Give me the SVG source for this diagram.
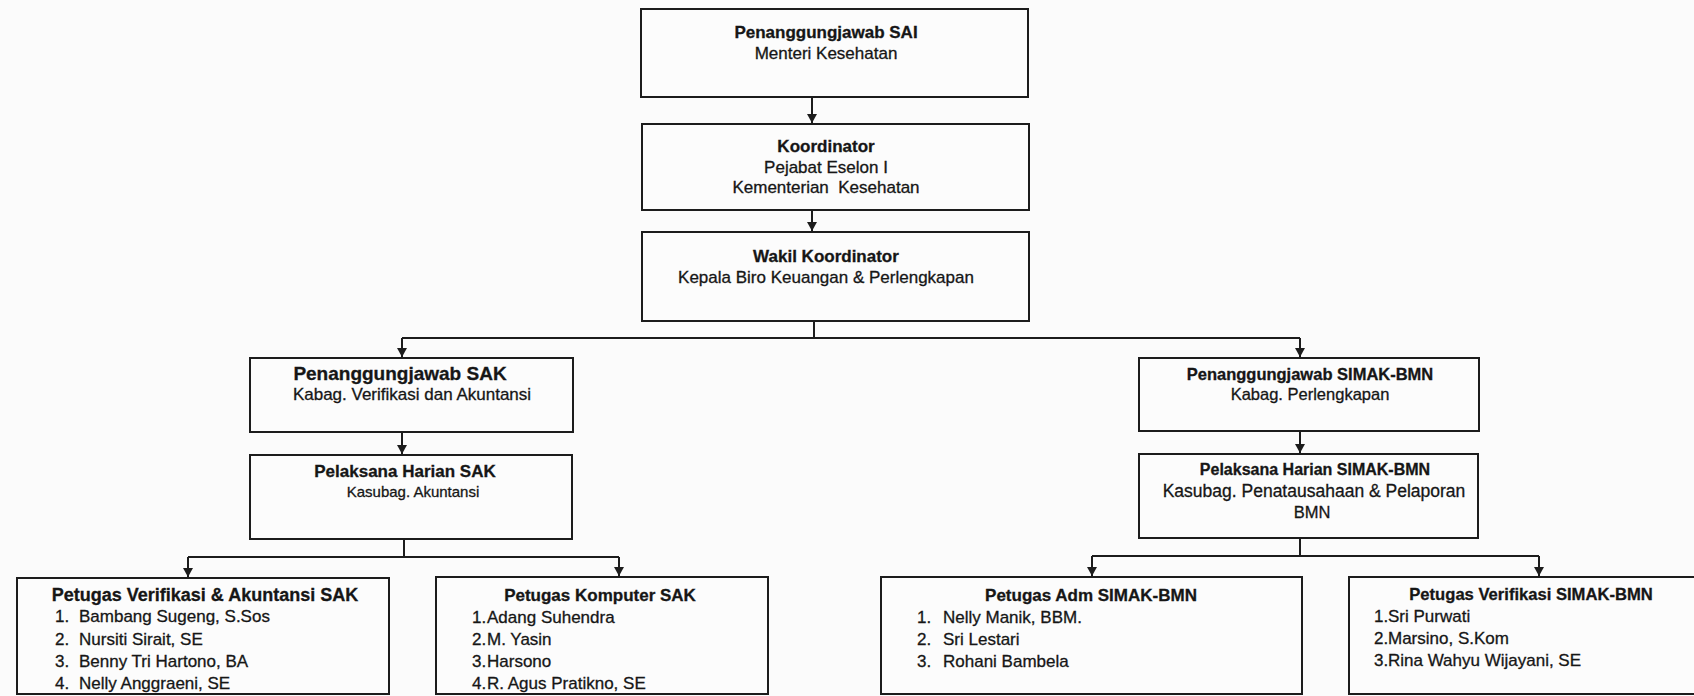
<svg xmlns="http://www.w3.org/2000/svg" width="1694" height="696" viewBox="0 0 1694 696">
<defs>
<style>
.bg{fill:#fbfbfb}
.box{fill:#fcfcfc;stroke:#1c1c1c;stroke-width:2}
.ln{fill:none;stroke:#1c1c1c;stroke-width:2}
text{font-family:"Liberation Sans",Arial,sans-serif;fill:#161616;stroke:#161616;stroke-width:0.3;font-size:17px}
.c{text-anchor:middle}
.b{font-weight:bold}
</style>
<marker id="ah" viewBox="0 0 10 10" refX="9" refY="5" markerWidth="10" markerHeight="10" markerUnits="userSpaceOnUse" orient="auto">
<path d="M0,0 L9,5 L0,10 z" fill="#1c1c1c"/>
</marker>
</defs>
<rect class="bg" x="0" y="0" width="1694" height="696"/>

<g id="connectors">
<path class="ln" d="M812,97 V123" marker-end="url(#ah)"/>
<path class="ln" d="M812,210 V231" marker-end="url(#ah)"/>
<path class="ln" d="M814,321 V338 M402,338 H1300"/>
<path class="ln" d="M402,338 V357" marker-end="url(#ah)"/>
<path class="ln" d="M1300,338 V357" marker-end="url(#ah)"/>
<path class="ln" d="M402,432 V454" marker-end="url(#ah)"/>
<path class="ln" d="M1300,431 V453" marker-end="url(#ah)"/>
<path class="ln" d="M404,539 V557 M188,557 H619"/>
<path class="ln" d="M188,557 V577" marker-end="url(#ah)"/>
<path class="ln" d="M619,557 V576" marker-end="url(#ah)"/>
<path class="ln" d="M1300,538 V556 M1092,556 H1539"/>
<path class="ln" d="M1092,556 V576" marker-end="url(#ah)"/>
<path class="ln" d="M1539,556 V576" marker-end="url(#ah)"/>
</g>

<g id="pj-sai">
<rect class="box" x="641" y="9" width="387" height="88"/>
<text class="c b" x="826" y="38">Penanggungjawab SAI</text>
<text class="c" x="826" y="59">Menteri Kesehatan</text>
</g>

<g id="koordinator">
<rect class="box" x="642" y="124" width="387" height="86"/>
<text class="c b" x="826" y="152">Koordinator</text>
<text class="c" x="826" y="173">Pejabat Eselon I</text>
<text class="c" x="826" y="193" xml:space="preserve">Kementerian  Kesehatan</text>
</g>

<g id="wakil-koordinator">
<rect class="box" x="642" y="232" width="387" height="89"/>
<text class="c b" x="826" y="262">Wakil Koordinator</text>
<text class="c" x="826" y="283">Kepala Biro Keuangan &amp; Perlengkapan</text>
</g>

<g id="pj-sak">
<rect class="box" x="250" y="358" width="323" height="74"/>
<text class="c b" x="400" y="380" style="font-size:19px">Penanggungjawab SAK</text>
<text class="c" x="412" y="400">Kabag. Verifikasi dan Akuntansi</text>
</g>

<g id="ph-sak">
<rect class="box" x="250" y="455" width="322" height="84"/>
<text class="c b" x="405" y="477">Pelaksana Harian SAK</text>
<text class="c" x="413" y="497" style="font-size:15px">Kasubag. Akuntansi</text>
</g>

<g id="pj-simak">
<rect class="box" x="1139" y="358" width="340" height="73"/>
<text class="c b" x="1310" y="380" style="font-size:16.5px">Penanggungjawab SIMAK-BMN</text>
<text class="c" x="1310" y="400" style="font-size:16.5px">Kabag. Perlengkapan</text>
</g>

<g id="ph-simak">
<rect class="box" x="1139" y="454" width="339" height="84"/>
<text class="c b" x="1315" y="475" style="font-size:16px">Pelaksana Harian SIMAK-BMN</text>
<text class="c" x="1314" y="497" style="font-size:17.5px">Kasubag. Penatausahaan &amp; Pelaporan</text>
<text class="c" x="1312" y="518" style="font-size:16.5px">BMN</text>
</g>

<g id="petugas-verif-sak">
<rect class="box" x="17" y="578" width="372" height="116"/>
<text class="c b" x="205" y="601" style="font-size:18px">Petugas Verifikasi &amp; Akuntansi SAK</text>
<text x="55" y="622">1.</text><text x="79" y="622">Bambang Sugeng, S.Sos</text>
<text x="55" y="645">2.</text><text x="79" y="645">Nursiti Sirait, SE</text>
<text x="55" y="667">3.</text><text x="79" y="667">Benny Tri Hartono, BA</text>
<text x="55" y="689">4.</text><text x="79" y="689">Nelly Anggraeni, SE</text>
</g>

<g id="petugas-komputer-sak">
<rect class="box" x="436" y="577" width="332" height="117"/>
<text class="c b" x="600" y="601">Petugas Komputer SAK</text>
<text x="472" y="623">1.</text><text x="487" y="623">Adang Suhendra</text>
<text x="472" y="645">2.</text><text x="487" y="645">M. Yasin</text>
<text x="472" y="667">3.</text><text x="487" y="667">Harsono</text>
<text x="472" y="689">4.</text><text x="487" y="689">R. Agus Pratikno, SE</text>
</g>

<g id="petugas-adm-simak">
<rect class="box" x="881" y="577" width="421" height="117"/>
<text class="c b" x="1091" y="601">Petugas Adm SIMAK-BMN</text>
<text x="917" y="623">1.</text><text x="943" y="623">Nelly Manik, BBM.</text>
<text x="917" y="645">2.</text><text x="943" y="645">Sri Lestari</text>
<text x="917" y="667">3.</text><text x="943" y="667">Rohani Bambela</text>
</g>

<g id="petugas-verif-simak">
<rect class="box" x="1349" y="577" width="360" height="117"/>
<text class="c b" x="1531" y="600" style="font-size:16.6px">Petugas Verifikasi SIMAK-BMN</text>
<text x="1374" y="622">1.</text><text x="1388" y="622">Sri Purwati</text>
<text x="1374" y="644">2.</text><text x="1388" y="644">Marsino, S.Kom</text>
<text x="1374" y="666">3.</text><text x="1388" y="666">Rina Wahyu Wijayani, SE</text>
</g>
</svg>
